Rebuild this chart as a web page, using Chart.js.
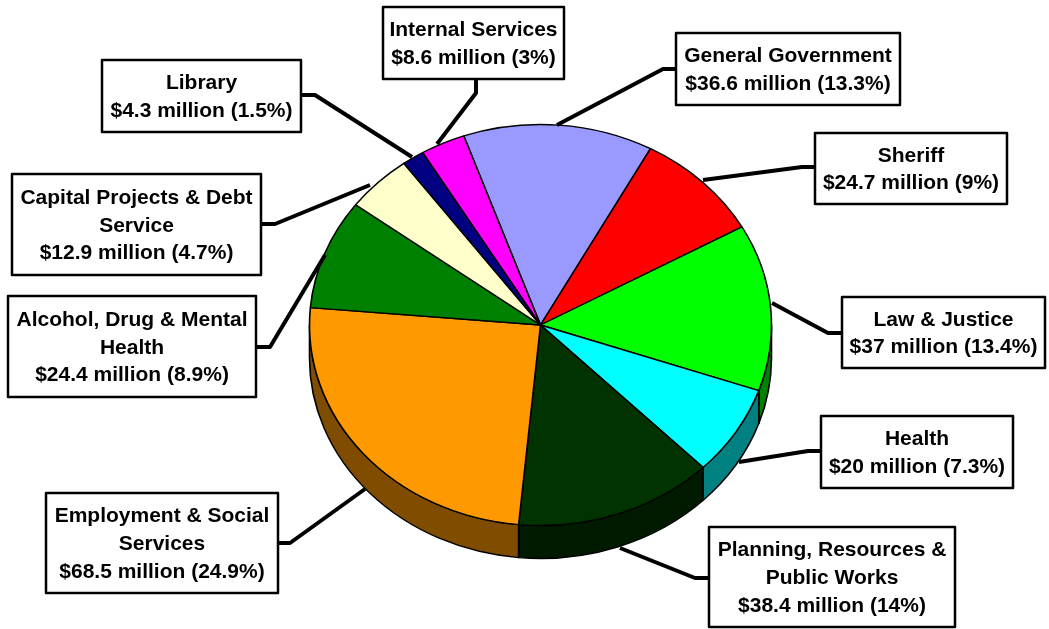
<!DOCTYPE html>
<html><head><meta charset="utf-8">
<script src="https://cdn.jsdelivr.net/npm/chart.js@4/dist/chart.umd.min.js"></script>
<style>html,body{margin:0;padding:0;background:#fff;overflow:hidden}canvas{display:block}</style>
</head><body>
<canvas id="c" width="1049" height="629"></canvas>
<script>
// ---- data ----
const categories = ["General Government","Sheriff","Law & Justice","Health","Planning, Resources & Public Works","Employment & Social Services","Alcohol, Drug & Mental Health","Capital Projects & Debt Service","Library","Internal Services"];
const valuesMillions = [36.6, 24.7, 37, 20, 38.4, 68.5, 24.4, 12.9, 4.3, 8.6];
const percents = [13.3, 9, 13.4, 7.3, 14, 24.9, 8.9, 4.7, 1.5, 3];

// ---- styles / layout ----
const colors = ["#9999FF","#FF0000","#00FF00","#00FFFF","#003300","#FF9900","#008000","#FFFFCC","#000080","#FF00FF"];
const sideColors = colors.map(c => {
  const n = parseInt(c.slice(1), 16);
  const r = (n >> 16) & 255, g = (n >> 8) & 255, b = n & 255;
  return `rgb(${Math.round(r/2)},${Math.round(g/2)},${Math.round(b/2)})`;
});
const TILT = 200.5 / 231;   // vertical squash of the pie
const DEPTH = 33;           // px thickness of the pie
const FONT = 'bold 21px "Liberation Sans", Arial, sans-serif';
const LINE_H = 27.7;
// label boxes [x, y, w, h] and leader polylines
const labelBoxes = [
  [676, 33, 224, 72], [815, 133, 192, 71], [842, 297, 203, 71], [821, 416, 192, 72],
  [709, 527, 246, 100], [46, 493, 232, 100], [8, 296, 248, 101], [12, 174, 249, 101],
  [102, 60, 199, 72], [383, 7, 181, 72]
];
const leaders = [
  [[676,69],[663,69],[557,125]],
  [[815,167],[802,167],[703,180]],
  [[842,333],[828,333],[772,303]],
  [[821,451],[808,451],[739,462]],
  [[709,578],[695,578],[620,548]],
  [[278,543],[290,543],[365,489]],
  [[256,347],[270,347],[325,255]],
  [[261,224],[275,224],[370,185]],
  [[301,95],[315,95],[412,157]],
  [[476,79],[476,93],[437,144]]
];

function wrap(ctx, text, maxW) {
  const words = text.split(' ');
  const lines = [];
  let cur = '';
  for (const w of words) {
    const t = cur ? cur + ' ' + w : w;
    if (cur && ctx.measureText(t).width > maxW) { lines.push(cur); cur = w; }
    else cur = t;
  }
  if (cur) lines.push(cur);
  return lines;
}

const pie3d = {
  id: 'pie3d',
  beforeDatasetsDraw(chart) {
    const ctx = chart.ctx;
    const meta = chart.getDatasetMeta(0);
    const a0 = meta.data[0];
    const cx = a0.x, cy = a0.y, R = a0.outerRadius;
    ctx.save();
    ctx.translate(cx, cy); ctx.scale(1, TILT); ctx.translate(-cx, -cy);
    const D = DEPTH / TILT;
    meta.data.forEach((arc, i) => {
      const s = arc.startAngle, e = arc.endAngle;
      for (let k = -2; k <= 2; k++) {
        const lo = Math.max(s, 2*Math.PI*k), hi = Math.min(e, 2*Math.PI*k + Math.PI);
        if (hi > lo) {
          ctx.beginPath();
          ctx.arc(cx, cy, R, lo, hi);
          ctx.arc(cx, cy + D, R, hi, lo, true);
          ctx.closePath();
          ctx.fillStyle = sideColors[i];
          ctx.fill();
          ctx.lineWidth = 1.6; ctx.strokeStyle = '#000'; ctx.lineJoin = 'round';
          ctx.stroke();
        }
      }
    });
  },
  afterDatasetsDraw(chart) { chart.ctx.restore(); },
  afterDraw(chart) {
    const ctx = chart.ctx;
    ctx.save();
    // leader lines
    ctx.strokeStyle = '#000'; ctx.lineWidth = 4; ctx.lineJoin = 'round'; ctx.lineCap = 'butt';
    leaders.forEach(pts => {
      ctx.beginPath();
      ctx.moveTo(pts[0][0], pts[0][1]);
      for (let j = 1; j < pts.length; j++) ctx.lineTo(pts[j][0], pts[j][1]);
      ctx.stroke();
    });
    // boxes
    ctx.font = FONT;
    ctx.textAlign = 'center'; ctx.textBaseline = 'alphabetic';
    categories.forEach((name, i) => {
      const [x, y, w, h] = labelBoxes[i];
      ctx.fillStyle = '#fff';
      ctx.fillRect(x, y, w, h);
      ctx.lineWidth = 2.5; ctx.strokeStyle = '#000';
      ctx.strokeRect(x, y, w, h);
      const lines = wrap(ctx, name, w - 4);
      lines.push('$' + valuesMillions[i] + ' million (' + percents[i] + '%)');
      const mid = y + h / 2;
      const first = mid - (lines.length - 1) * LINE_H / 2 + 7;
      ctx.fillStyle = '#000';
      lines.forEach((l, j) => ctx.fillText(l, x + w / 2, first + j * LINE_H));
    });
    ctx.restore();
  }
};

new Chart(document.getElementById('c'), {
  type: 'pie',
  data: {
    labels: categories,
    datasets: [{
      data: valuesMillions,
      backgroundColor: colors,
      borderColor: '#000',
      borderWidth: 1.6,
      clip: false
    }]
  },
  options: {
    responsive: false,
    animation: false,
    events: [],
    rotation: -19.4,
    radius: 231,
    layout: { padding: { left: 309, right: 277, top: 93, bottom: 72 } },
    plugins: { legend: { display: false }, tooltip: { enabled: false } }
  },
  plugins: [pie3d]
});
</script>
</body></html>
